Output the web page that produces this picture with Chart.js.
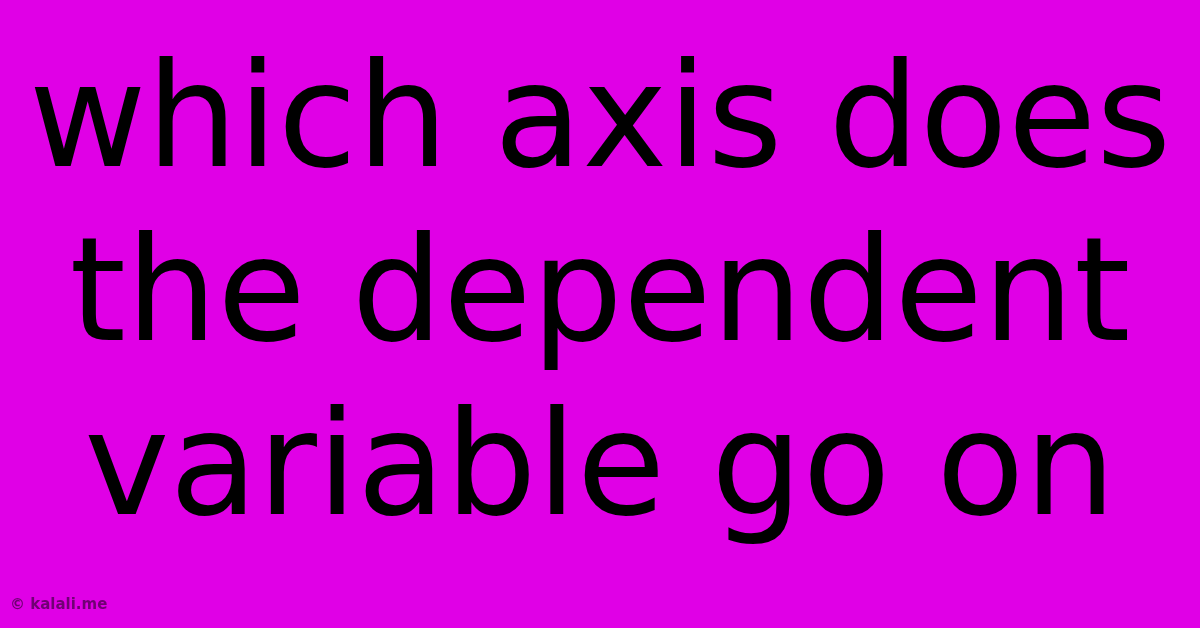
<!DOCTYPE html>
<html>
<head>
<meta charset="utf-8">
<script src="https://cdn.jsdelivr.net/npm/chart.js@4"></script>
<style>
  html, body { margin: 0; padding: 0; background: #e000e6; }
  .wrap { width: 1200px; height: 628px; position: relative; }
</style>
</head>
<body>
<div class="wrap"><canvas class="js-chart"></canvas></div>
<script>
// the picture is only a headline, so the "data" is just its text
const titleLines = ['which axis does', 'the dependent', 'variable go on'];
const credit = '\u00a9 kalali.me';
const labels = [];
const values = [];

const ctx = document.querySelector('.js-chart').getContext('2d');

const bgPlugin = {
  id: 'bg',
  beforeDraw(chart) {
    const c = chart.ctx;
    c.save();
    c.fillStyle = '#e000e6';
    c.fillRect(0, 0, chart.width, chart.height);
    c.restore();
  },
};

new Chart(ctx, {
  type: 'bar',
  data: {
    labels: labels,
    datasets: [{ data: values, backgroundColor: '#000' }],
  },
  options: {
    responsive: true,
    maintainAspectRatio: false,
    animation: false,
    layout: { padding: { top: 0, bottom: 14, left: 10, right: 10 } },
    scales: {
      x: { display: false },
      y: { display: false },
    },
    plugins: {
      legend: { display: false },
      tooltip: { enabled: false },
      title: {
        display: true,
        text: titleLines,
        color: '#000',
        font: { family: 'DejaVu Sans', size: 144, weight: 'normal', lineHeight: 1.208 },
        padding: { top: 42, bottom: 0 },
      },
      subtitle: {
        display: true,
        text: credit,
        position: 'bottom',
        align: 'start',
        color: 'rgba(0,0,0,0.5)',
        font: { family: 'DejaVu Sans', size: 15, weight: 'bold' },
        padding: 0,
      },
    },
  },
  plugins: [bgPlugin],
});
</script>
</body>
</html>
